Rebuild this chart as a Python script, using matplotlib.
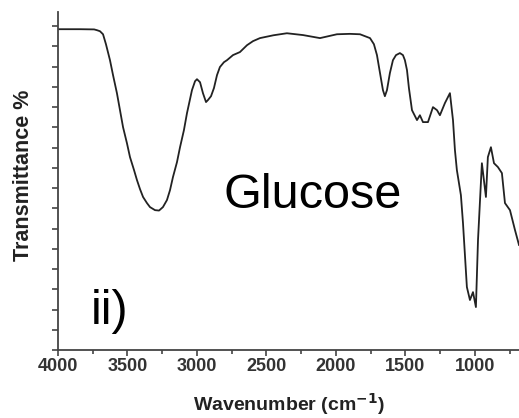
import matplotlib
matplotlib.use('Agg')
import matplotlib.pyplot as plt
from matplotlib.ticker import MultipleLocator

# FTIR spectrum of glucose
wavenumber = [4000, 3842, 3740, 3719, 3698, 3676, 3655, 3626, 3604, 3576,
              3554, 3532, 3504, 3482, 3453, 3432, 3410, 3388, 3360, 3338,
              3302, 3273, 3245, 3216, 3194, 3173, 3144, 3122, 3094, 3072,
              3036, 3014, 3000, 2978, 2957, 2935, 2921, 2899, 2878, 2856,
              2835, 2806, 2784, 2741, 2691, 2640, 2597, 2547, 2450, 2353,
              2237, 2115, 1993, 1900, 1827, 1755, 1727, 1705, 1683, 1662,
              1648, 1633, 1612, 1590, 1568, 1540, 1518, 1504, 1489, 1475,
              1453, 1417, 1396, 1374, 1338, 1302, 1273, 1252, 1216, 1180,
              1158, 1144, 1130, 1101, 1086, 1058, 1036, 1014, 993, 978,
              950, 921, 907, 885, 863, 835, 806, 784, 748, 712, 683]
transmittance = [15.85, 15.85, 15.84, 15.80, 15.75, 15.60, 15.11, 14.32, 13.58, 12.69,
                 11.85, 11.01, 10.22, 9.53, 8.89, 8.40, 7.95, 7.56, 7.26, 7.06,
                 6.91, 6.89, 7.06, 7.41, 7.90, 8.54, 9.28, 10.02, 10.86, 11.70,
                 12.84, 13.28, 13.38, 13.23, 12.69, 12.25, 12.35, 12.54, 12.94, 13.58,
                 13.98, 14.22, 14.32, 14.57, 14.72, 15.06, 15.26, 15.41, 15.55, 15.65,
                 15.56, 15.41, 15.60, 15.62, 15.60, 15.41, 15.11, 14.57, 13.68, 12.84,
                 12.54, 12.84, 13.68, 14.32, 14.57, 14.67, 14.57, 14.32, 13.83, 12.94,
                 11.85, 11.36, 11.60, 11.26, 11.26, 12.00, 11.85, 11.60, 12.20, 12.69,
                 11.36, 9.88, 8.89, 7.65, 6.27, 3.11, 2.47, 2.86, 2.12, 5.43,
                 9.23, 7.56, 9.53, 10.02, 9.23, 9.04, 8.74, 7.26, 6.91, 5.93, 5.19]

fig = plt.figure(figsize=(5.19, 4.18), dpi=100)
ax = fig.add_axes([58 / 519, 68 / 418, 461 / 519, 338 / 418])

ax.plot(wavenumber, transmittance, color='#222222', linewidth=1.3,
        solid_joinstyle='round')

ax.set_xlim(4000, 683)
ax.set_ylim(0, 16.7)

# spines: only left and bottom
for side in ['top', 'right']:
    ax.spines[side].set_visible(False)
for side in ['left', 'bottom']:
    ax.spines[side].set_color('#444444')
    ax.spines[side].set_linewidth(1.3)

ax.xaxis.set_major_locator(MultipleLocator(500))
ax.xaxis.set_minor_locator(MultipleLocator(250))
ax.yaxis.set_major_locator(MultipleLocator(1))
ax.set_yticklabels([])
ax.tick_params(axis='both', which='major', direction='out', length=4, width=1.2, color='#444444')
ax.tick_params(axis='x', which='minor', direction='out', length=3, width=1.2, color='#444444')
ax.tick_params(axis='x', labelsize=13, pad=2)
for lbl in ax.get_xticklabels():
    lbl.set_fontweight('bold')
    lbl.set_fontfamily('Liberation Sans')
    lbl.set_color('#333333')

ax.set_xlabel('Wavenumber (cm$^{\\mathbf{-1}}$)', fontsize=14, fontweight='bold',
              fontfamily='Liberation Sans', color='#222222', labelpad=11)
fig.text(24 / 519, 1 - 175 / 418, 'Transmittance %', rotation=90, ha='center', va='center',
         fontsize=15.5, fontweight='bold', fontfamily='Liberation Sans', color='#222222')

ax.text(0.553, 0.456, 'Glucose', ha='center', va='center', fontsize=35,
        fontfamily='Liberation Sans', color='black', transform=ax.transAxes)
ax.text(0.07, 0.115, 'ii)', ha='left', va='center', fontsize=35,
        fontfamily='Liberation Sans', color='black', transform=ax.transAxes)

plt.savefig('out.png', dpi=100)
